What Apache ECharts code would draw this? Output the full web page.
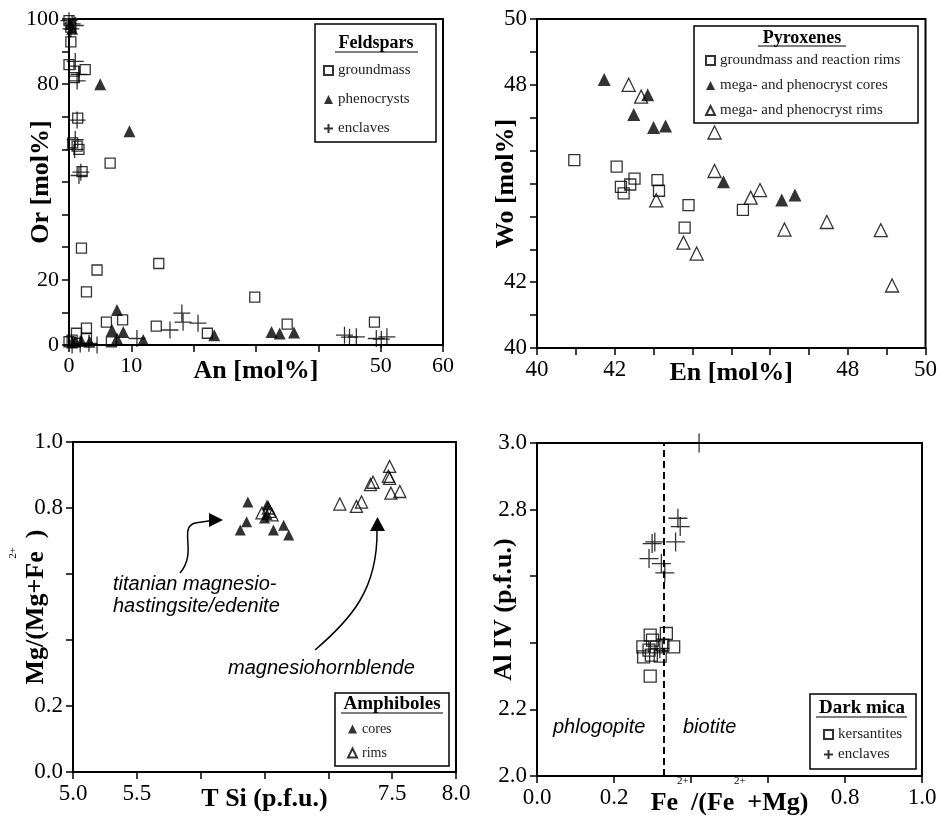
<!DOCTYPE html>
<html>
<head>
<meta charset="utf-8">
<script src="https://cdn.jsdelivr.net/npm/echarts@6/dist/echarts.min.js"></script>
<style>
html,body{margin:0;padding:0;background:#fff;}
#chart{width:940px;height:817px;}
</style>
</head>
<body>
<div id="chart"></div>
<script>
// ---------- DATA ----------
// Feldspars: [An, Or]
const feldsparGroundmass = [[0,99.5],[0.3,97.5],[0.3,93],[0,86],[0.8,84],[2.6,84.5],[0.8,82],[1.4,69.6],[0.6,62],[1.3,61],[1.6,60],[2.1,53.2],[6.6,55.8],[2,29.7],[4.5,23],[2.8,16.3],[14.4,25],[6,7],[8.6,7.7],[2.8,5.2],[14,5.8],[22.2,3.6],[29.8,14.7],[35,6.4],[49,7],[1.2,3.6],[0.5,1.5],[6.8,1],[2.8,2],[0,1]];
const feldsparPhenocrysts = [[0.2,98.5],[0.5,97],[5,80],[9.7,65.6],[7.7,10.7],[6.9,4.6],[8.7,4],[7.7,2],[11.9,1.5],[23.3,3],[32.5,4],[33.8,3.5],[36.1,3.8],[1,1],[2,1.2],[3.3,1],[0.5,0.8]];
const feldsparEnclaves = [[0,99.5],[0.5,98.5],[1,98],[0.3,97],[1,87],[1.6,83],[1.3,81],[1.3,69],[1,63],[0.9,60],[1.9,53],[1.6,52],[10.9,2],[16.2,4.6],[18.1,9.8],[18.3,7],[20.7,6.7],[44.2,3],[45,2.4],[46.1,2.5],[49.3,2],[50.1,1.8],[51,2.5],[3.2,0.5],[1.8,0.3],[4.5,0],[0.5,0]];
// Pyroxenes: [En, Wo]
const pyroxeneGroundmass = [[40.96,45.71],[42.05,45.51],[42.16,44.9],[42.23,44.7],[42.4,44.97],[42.51,45.15],[43.1,45.1],[43.14,44.78],[43.9,44.34],[43.8,43.66],[45.3,44.2]];
const pyroxeneCores = [[41.73,48.16],[42.85,47.7],[42.49,47.1],[43.0,46.7],[43.31,46.75],[44.8,45.05],[46.3,44.5],[46.64,44.65]];
const pyroxeneRims = [[42.36,48.0],[42.68,47.64],[44.57,46.55],[44.57,45.38],[43.07,44.49],[43.77,43.2],[44.11,42.87],[45.5,44.57],[45.74,44.8],[46.37,43.6],[47.46,43.83],[48.85,43.58],[49.14,41.9]];
// Amphiboles: [T Si, Mg/(Mg+Fe2+)]
const amphiboleCores = [[6.37,0.818],[6.52,0.809],[6.36,0.758],[6.31,0.733],[6.50,0.77],[6.57,0.733],[6.65,0.748],[6.69,0.718],[6.52,0.78]];
const amphiboleRims = [[6.48,0.785],[6.54,0.79],[6.56,0.779],[6.53,0.80],[7.09,0.812],[7.22,0.805],[7.26,0.818],[7.33,0.871],[7.35,0.878],[7.48,0.926],[7.47,0.896],[7.48,0.89],[7.49,0.845],[7.56,0.85]];
// Dark mica: [Fe2+/(Fe2+ + Mg), Al IV]
const micaKersantites = [[0.294,2.423],[0.30,2.408],[0.275,2.388],[0.291,2.378],[0.277,2.358],[0.297,2.363],[0.32,2.36],[0.336,2.428],[0.327,2.393],[0.355,2.388],[0.294,2.30],[0.31,2.388]];
const micaEnclaves = [[0.421,3.0],[0.366,2.774],[0.372,2.749],[0.36,2.703],[0.306,2.703],[0.299,2.698],[0.291,2.653],[0.323,2.638],[0.332,2.61],[0.319,2.383]];
const micaDivider = 0.33;
// Tick labels shown
const feldsparXLabels = ['0','10','50','60'];
const feldsparYLabels = ['0','20','80','100'];
const pyroxeneXLabels = ['40','42','48','50'];
const pyroxeneYLabels = ['40','42','48','50'];
const amphiboleXLabels = ['5.0','5.5','7.5','8.0'];
const amphiboleYLabels = ['0.0','0.2','0.8','1.0'];
const micaXLabels = ['0.0','0.2','0.8','1.0'];
const micaYLabels = ['2.0','2.2','2.8','3.0'];

// ---------- STYLE ----------
const SERIF = 'Liberation Serif';
const PLUS = 'path://M0,5L10,5M5,0L5,10';

function fmt(dec){ return v => Number(v).toFixed(dec); }
function axisCommon(idx, min, max, interval, labels, dec, name, nameGap, isY, fs){
  const f = fmt(dec);
  return {
    type:'value', gridIndex: idx, min, max, interval,
    name, nameLocation:'middle', nameGap, nameRotate: isY ? 90 : 0,
    nameMoveOverlap:false,
    nameTextStyle:{fontFamily:SERIF, fontWeight:'bold', fontSize:26, color:'#000'},
    axisLine:{show:true, onZero:false, lineStyle:{color:'#000', width:2}},
    axisTick:{show:true, inside:false, length:7, lineStyle:{color:'#000', width:1.5}},
    splitLine:{show:false},
    axisLabel:{show:true, margin:10, fontFamily:SERIF, fontSize:fs, color:'#000', hideOverlap:false,
      formatter: v => labels.includes(f(v)) ? f(v) : ''},
  };
}

const grids = [
  {left:69, top:19, width:374, height:326},
  {left:537, top:19, width:389, height:329},
  {left:73, top:442, width:383, height:330},
  {left:537, top:443, width:385, height:333}
].map(g => Object.assign(g, {show:true, borderColor:'#000', borderWidth:2, backgroundColor:'transparent'}));

const xAxes = [
  axisCommon(0, 0, 60, 10, feldsparXLabels, 0, 'An [mol%]', 13, false, 22),
  axisCommon(1, 40, 50, 1, pyroxeneXLabels, 0, 'En [mol%]', 12, false, 23),
  axisCommon(2, 5, 8, 0.5, amphiboleXLabels, 1, 'T Si (p.f.u.)', 14, false, 23),
  axisCommon(3, 0, 1, 0.2, micaXLabels, 1, 'Fe  /(Fe  +Mg)', 14, false, 23)
];
const yAxes = [
  axisCommon(0, 0, 100, 10, feldsparYLabels, 0, 'Or [mol%]', 15, true, 22),
  axisCommon(1, 40, 50, 1, pyroxeneYLabels, 0, 'Wo [mol%]', 18, true, 23),
  axisCommon(2, 0, 1, 0.2, amphiboleYLabels, 1, 'Mg/(Mg+Fe  )', 24, true, 23),
  axisCommon(3, 2, 3, 0.2, micaYLabels, 1, 'Al IV (p.f.u.)', 20, true, 23)
];

const hollow = {color:'rgba(0,0,0,0)', borderColor:'#000', borderWidth:1.3};
const solid = {color:'#000', borderColor:'#000', borderWidth:0};
const plusStyle = {color:'rgba(0,0,0,0)', borderColor:'#000', borderWidth:1.3};

function sc(name, idx, data, symbol, size, style){
  return {type:'scatter', name, xAxisIndex:idx, yAxisIndex:idx, data, symbol, symbolSize:size,
    itemStyle:style, clip:false, silent:true, animation:false};
}

const series = [
  sc('groundmass',0,feldsparGroundmass,'rect',10,hollow),
  sc('phenocrysts',0,feldsparPhenocrysts,'triangle',12,solid),
  sc('enclaves',0,feldsparEnclaves,PLUS,17,plusStyle),
  sc('groundmass and reaction rims',1,pyroxeneGroundmass,'rect',11,hollow),
  sc('mega- and phenocryst cores',1,pyroxeneCores,'triangle',13,solid),
  sc('mega- and phenocryst rims',1,pyroxeneRims,'triangle',13,hollow),
  sc('cores',2,amphiboleCores,'triangle',11,solid),
  sc('rims',2,amphiboleRims,'triangle',12,hollow),
  sc('kersantites',3,micaKersantites,'rect',12,hollow),
  Object.assign(sc('enclaves',3,micaEnclaves,PLUS,19,plusStyle), {
    markLine:{silent:true, symbol:'none', animation:false, label:{show:false},
      lineStyle:{color:'#000', width:2, type:[7,4]},
      data:[{xAxis: micaDivider}]}
  })
];

function lg(data, left, top, gap, fs){
  return {data, orient:'vertical', left, top, itemGap:gap, itemWidth:9, itemHeight:9,
    selectedMode:false, padding:0, z:20,
    textStyle:{fontFamily:SERIF, fontSize:fs, color:'#222'}};
}
const legends = [
  lg(['groundmass','phenocrysts','enclaves'], 323, 63, 14, 15),
  lg(['groundmass and reaction rims','mega- and phenocryst cores','mega- and phenocryst rims'], 705, 53, 10, 15),
  lg(['cores','rims'], 347, 722, 10, 14),
  lg(['kersantites','enclaves'], 823, 727, 5, 15)
];

function box(x1,y1,x2,y2){
  return {type:'rect', shape:{x:x1,y:y1,width:x2-x1,height:y2-y1}, style:{fill:'none', stroke:'#000', lineWidth:1.5}, z:5};
}
function txt(x,y,text,opts){
  return {type:'text', x, y, z:10, style:Object.assign({text, fill:'#000'}, opts)};
}
function uline(x1,x2,y){
  return {type:'line', shape:{x1,y1:y,x2,y2:y}, style:{stroke:'#000', lineWidth:1.2}, z:10};
}
const italic = {font:'italic 20px "Liberation Sans"', textVerticalAlign:'middle'};

const graphic = [
  box(315,24,436,142),
  txt(376,43,'Feldspars',{font:'bold 18px "Liberation Serif"', textAlign:'center', textVerticalAlign:'middle'}),
  uline(335,418,52),
  box(694,26,918,123),
  txt(802,38,'Pyroxenes',{font:'bold 18px "Liberation Serif"', textAlign:'center', textVerticalAlign:'middle'}),
  uline(758,846,46),
  box(335,693,449,766),
  txt(392,704,'Amphiboles',{font:'bold 19px "Liberation Serif"', textAlign:'center', textVerticalAlign:'middle'}),
  uline(341,443,713),
  box(810,694,916,769),
  txt(862,708,'Dark mica',{font:'bold 19px "Liberation Serif"', textAlign:'center', textVerticalAlign:'middle'}),
  uline(816,907,717),
  txt(113,584,'titanian magnesio-',italic),
  txt(113,606,'hastingsite/edenite',italic),
  txt(228,668,'magnesiohornblende',italic),
  txt(553,727,'phlogopite',italic),
  txt(683,727,'biotite',italic),
  // superscripts
  txt(677,781,'2+',{font:'11px "Liberation Serif"', textVerticalAlign:'middle'}),
  txt(734,781,'2+',{font:'11px "Liberation Serif"', textVerticalAlign:'middle'}),
  {type:'text', x:13, y:553, rotation:Math.PI/2, z:10, style:{text:'2+', font:'11px "Liberation Serif"', fill:'#000', textAlign:'center', textVerticalAlign:'middle'}},
  // arrows
  {type:'bezierCurve', shape:{x1:180,y1:573,cpx1:198,cpy1:552,cpx2:178,cpy2:528,x2:195,y2:523}, style:{stroke:'#000', lineWidth:1.5, fill:null}, z:10},
  {type:'line', shape:{x1:195,y1:523,x2:212,y2:520.5}, style:{stroke:'#000', lineWidth:1.5}, z:10},
  {type:'polygon', shape:{points:[[209,513],[223,520],[209,527]]}, style:{fill:'#000'}, z:10},
  {type:'bezierCurve', shape:{x1:315,y1:650,cpx1:350,cpy1:620,cpx2:378,cpy2:590,x2:377,y2:530}, style:{stroke:'#000', lineWidth:1.5, fill:null}, z:10},
  {type:'polygon', shape:{points:[[370,531],[377.5,517],[385,531]]}, style:{fill:'#000'}, z:10}
];

const chart = echarts.init(document.getElementById('chart'), null, {renderer:'canvas'});
chart.setOption({
  animation:false,
  backgroundColor:'#fff',
  grid: grids,
  xAxis: xAxes,
  yAxis: yAxes,
  legend: legends,
  series,
  graphic
});
</script>
</body>
</html>
